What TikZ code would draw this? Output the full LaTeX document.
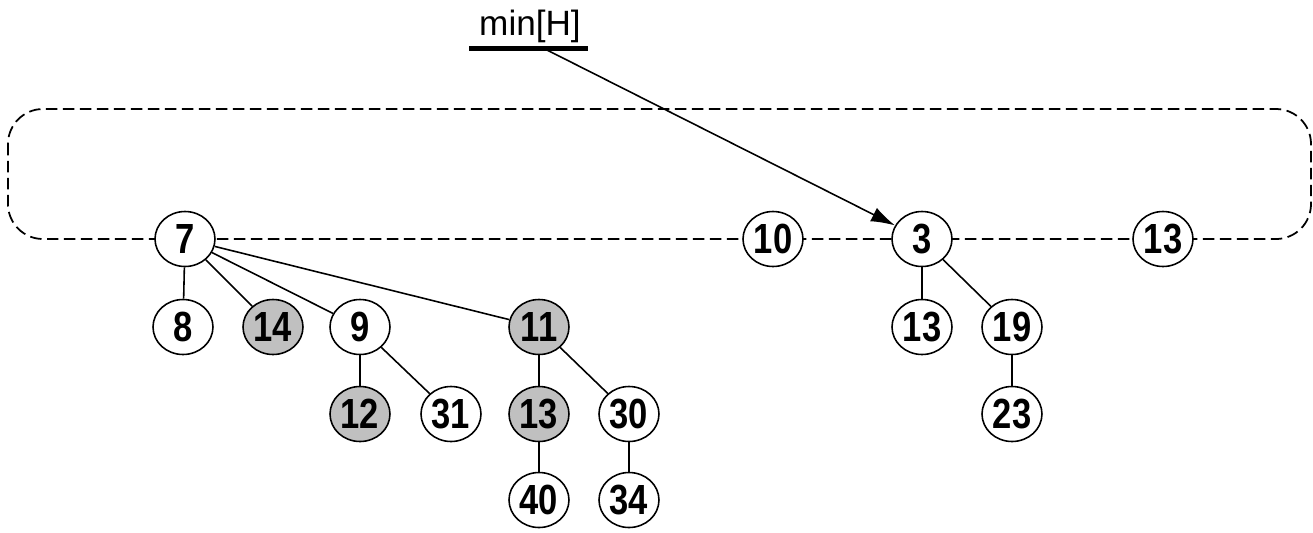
\documentclass[tikz,border=0pt]{standalone}
\usepackage{fontspec}
\setmainfont{Liberation Sans}
\newfontfamily\nodefont[FakeStretch=0.82]{Liberation Sans}
\usetikzlibrary{shapes.geometric,arrows.meta}
\definecolor{heapgray}{RGB}{192,192,192}
\tikzset{
  hn/.style={ellipse, draw=black, line width=0.9pt, fill=white,
    minimum width=1.2cm, minimum height=1.1cm, inner sep=0pt,
    font=\nodefont\fontsize{24}{24}\selectfont\bfseries},
  marked/.style={hn, fill=heapgray},
  tedge/.style={line width=0.9pt, black},
  rootloop/.style={dash pattern=on 0.23cm off 0.11cm, line width=1pt, rounded corners=0.7cm},
  minptr/.style={line width=0.9pt, -{Latex[length=0.48cm,width=0.3cm]}}
}
\begin{document}
\begin{tikzpicture}[x=0.02cm,y=-0.02cm]
\useasboundingbox (0,0) rectangle (1313,532);
% root list loop
\draw[rootloop] (8,109) rectangle (1311,239);
% min pointer label
\node[font=\fontsize{20}{20}\selectfont, inner sep=0pt] (minH) at (530,26) {min[H]};
\fill (469,45.5) rectangle (588,50.5);
\coordinate (mptr) at (545,49);
% roots
\node[hn] (r7) at (185,239) {7};
\node[hn] (r10) at (773,239) {10};
\node[hn] (r3) at (922,239) {3};
\node[hn] (r13) at (1163,239) {13};
% children of 7
\node[hn] (c8) at (183,327) {8};
\node[marked] (c14) at (273,327) {14};
\node[hn] (c9) at (360,327) {9};
\node[marked] (c11) at (539,327) {11};
\node[marked] (c12) at (360,414) {12};
\node[hn] (c31) at (451,414) {31};
\node[marked] (c13a) at (539,414) {13};
\node[hn] (c30) at (629,414) {30};
\node[hn] (c40) at (539,500) {40};
\node[hn] (c34) at (629,500) {34};
% children of 3
\node[hn] (c13b) at (922,327) {13};
\node[hn] (c19) at (1012,327) {19};
\node[hn] (c23) at (1012,414) {23};
% tree edges
\draw[tedge] (r7) -- (c8);
\draw[tedge] (r7) -- (c14);
\draw[tedge] (r7) -- (c9);
\draw[tedge] (r7) -- (c11);
\draw[tedge] (c9) -- (c12);
\draw[tedge] (c9) -- (c31);
\draw[tedge] (c11) -- (c13a);
\draw[tedge] (c11) -- (c30);
\draw[tedge] (c13a) -- (c40);
\draw[tedge] (c30) -- (c34);
\draw[tedge] (r3) -- (c13b);
\draw[tedge] (r3) -- (c19);
\draw[tedge] (c19) -- (c23);
% min pointer
\draw[minptr] (mptr) -- (r3);
\end{tikzpicture}
\end{document}
